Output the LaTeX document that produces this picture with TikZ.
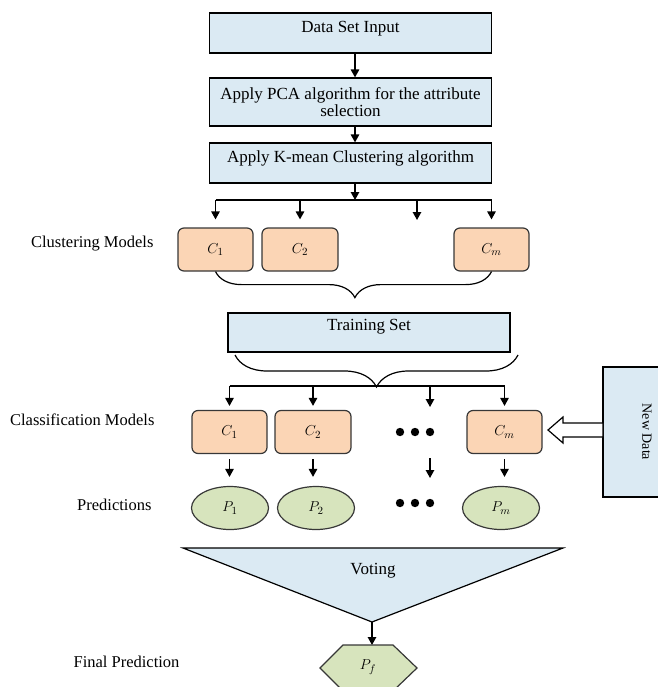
\documentclass[tikz,border=0pt]{standalone}
\usepackage{fontspec}
\setmainfont{Liberation Serif}
\usetikzlibrary{arrows.meta,shapes.geometric,decorations.pathreplacing}

\definecolor{stageblue}{RGB}{219,234,243}
\definecolor{modelorange}{RGB}{251,213,181}
\definecolor{predgreen}{RGB}{215,228,189}
\definecolor{edgegray}{RGB}{55,55,55}

\tikzset{
  stage/.style={draw=black, fill=stageblue, line width=1.2pt, minimum width=282pt,
    inner sep=0pt, align=center, text height=19.5pt, text depth=20.5pt,
    font=\fontsize{17}{17.5}\selectfont},
  model/.style={draw=edgegray, fill=modelorange, line width=1.2pt, rounded corners=6pt,
    minimum width=75pt, minimum height=43pt, inner sep=0pt, font=\fontsize{15}{17}\selectfont},
  pred/.style={ellipse, draw=edgegray, fill=predgreen, line width=1.2pt,
    minimum width=77pt, minimum height=43pt, inner sep=0pt, font=\fontsize{15}{17}\selectfont},
  flow/.style={line width=1.3pt, -{Triangle[length=8pt,width=8.5pt]}},
  sidelabel/.style={anchor=east, font=\fontsize{16.5}{17}\selectfont},
  curly/.style={line width=1.2pt, decorate, decoration={brace, mirror, amplitude=#1}},
}

\begin{document}
\begin{tikzpicture}[x=1pt, y=-1pt]
\useasboundingbox (0,0) rectangle (657,687);

\def\xs{350.5}; % stage boxes
\def\xa{355};   % main arrows
\def\yclu{249.5};
\def\ycls{432};
\def\ypred{508};

% stages
\node[stage] (data) at (\xs, 33) {Data Set Input};
\node[stage, text height=, text depth=, minimum height=48pt] (pca) at (\xs, 102)
  {Apply PCA algorithm for the attribute\\ selection};
\node[stage] (kmean) at (\xs, 163) {Apply K-mean Clustering algorithm};

\coordinate (axis) at (\xa, 0);
\draw[flow] (data.south -| axis) -- (pca.north -| axis);
\draw[flow] (pca.south -| axis) -- (kmean.north -| axis);

% clustering models
\node[model] (clu1) at (215.5, \yclu) {$C_1$};
\node[model, minimum width=76pt] (clu2) at (300, \yclu) {$C_2$};
\node[model] (clum) at (491.5, \yclu) {$C_m$};
\coordinate (gapa) at (417, 228);

\coordinate (fana) at (\xa, 200);
\draw[flow] (kmean.south -| fana) -- (fana);
\draw[line width=1.3pt] (fana -| clu1) -- (fana -| clum);
\draw[flow, shorten >=8pt] (fana -| clu1) -- (clu1.north);
\draw[flow, shorten >=8pt] (fana -| clu2) -- (clu2.north);
\draw[flow, shorten >=8pt] (fana -| gapa) -- (gapa);
\draw[flow, shorten >=8pt] (fana -| clum) -- (clum.north);

\draw[curly=26pt, decoration={aspect=0.505}] (clu1.south) -- (clum.south);

% training set
\node[stage, minimum width=282pt, text height=17pt, text depth=22pt] (train) at (369, 332.5) {Training Set};
\draw[curly=32pt, decoration={aspect=0.5}] (235, 355) -- (518, 355);

% classification models
\node[model] (cls1) at (229.5, \ycls) {$C_1$};
\node[model, minimum width=76pt] (cls2) at (313, \ycls) {$C_2$};
\node[model] (clsm) at (504.5, \ycls) {$C_m$};
\coordinate (gapb) at (430, 411);

\coordinate (fanb) at (376, 386);
\draw[line width=1.3pt] (fanb -| cls1) -- (fanb -| clsm);
\draw[flow, shorten >=4pt] (fanb -| cls1) -- (cls1.north);
\draw[flow, shorten >=4pt] (fanb -| cls2) -- (cls2.north);
\draw[flow, shorten >=4pt] (fanb -| gapb) -- (gapb);
\draw[flow, shorten >=4pt] (fanb -| clsm) -- (clsm.north);

\fill (400, \ycls) circle (4.2);
\fill (415, \ycls) circle (4.2);
\fill (430, \ycls) circle (4.2);

% new data
\node[draw=black, fill=stageblue, line width=1.2pt, rotate=-90, minimum width=130pt,
  minimum height=88pt, inner sep=0pt, font=\fontsize{14}{16}\selectfont] (newdata) at (647, 432) {New Data};
\coordinate (inlet) at (548, 430);
\draw[line width=1.2pt, fill=white] (inlet) -- ++(15,-13) -- ++(0,6) -- ++(40,0) -- ++(0,14)
  -- ++(-40,0) -- ++(0,6) -- cycle;

% predictions
\node[pred] (pred1) at (230, \ypred) {$P_1$};
\node[pred] (pred2) at (316, \ypred) {$P_2$};
\node[pred] (predm) at (501, \ypred) {$P_m$};
\coordinate (gapc) at (430, 453);
\coordinate (gapd) at (430, 487);

\draw[flow, shorten <=5pt, shorten >=9pt] (cls1.south) -- (cls1.south |- pred1.north);
\draw[flow, shorten <=5pt, shorten >=9pt] (cls2.south) -- (cls2.south |- pred2.north);
\draw[flow, shorten <=5pt, shorten >=9pt] (gapc) -- (gapd);
\draw[flow, shorten <=5pt, shorten >=9pt] (clsm.south) -- (clsm.south |- predm.north);

\fill (400, 503) circle (4.2);
\fill (415, 503) circle (4.2);
\fill (430, 503) circle (4.2);

% voting
\draw[line width=1.2pt, fill=stageblue] (183, 548) -- (563, 548) -- (372, 622) -- cycle;
\node[font=\fontsize{17}{17}\selectfont] (vote) at (373, 571) {Voting};
\coordinate (vtip) at (372, 622);
\coordinate (ftop) at (372, 645);
\draw[flow] (vtip) -- (ftop);

\draw[line width=1.2pt, draw=edgegray, fill=predgreen] (343, 645) -- (393, 645) -- (417, 668)
  -- (393, 691) -- (343, 691) -- (320, 668) -- cycle;
\node[font=\fontsize{15}{17}\selectfont] (final) at (368, 667) {$P_f$};

% side labels
\node[sidelabel] (lblclu) at (157, 244) {Clustering Models};
\node[sidelabel] (lblcls) at (158, 420) {Classification Models};
\node[sidelabel] (lblpred) at (155, 505) {Predictions};
\node[sidelabel] (lblfinal) at (183, 662) {Final Prediction};

\end{tikzpicture}
\end{document}
